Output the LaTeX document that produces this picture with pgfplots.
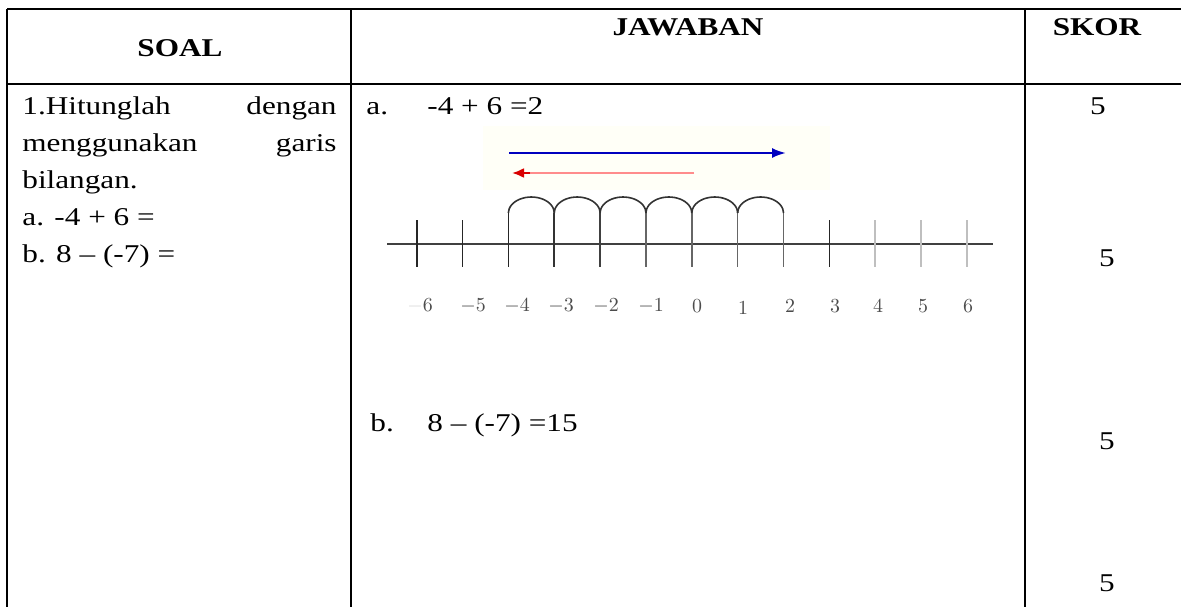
\documentclass[border=0pt]{standalone}
\usepackage{fontspec}
\setmainfont{Liberation Serif}
\usepackage{graphicx}
\usepackage{xcolor}
\usepackage{pgfplots}
\usepackage{pgfplotstable}
\pgfplotsset{compat=1.18}
\usetikzlibrary{arrows.meta}

% stretched text, as in the reference scan
\newcommand{\tx}[1]{\scalebox{1.22}[1]{\fontsize{12.8bp}{15bp}\selectfont #1}}

% one arch: offsets from its left foot (pixels)
\pgfplotstableread{
dx dy
0 0
0.78 -4.14
3.07 -8
6.72 -11.31
11.46 -13.86
17.0 -15.45
22.93 -16
28.86 -15.45
34.39 -13.86
39.14 -11.31
42.79 -8
45.07 -4.14
45.85 0
}\archtable

\begin{document}
\begin{tikzpicture}
\begin{axis}[
    scale only axis,
    width=590.5bp,
    height=303.5bp,
    xmin=0, xmax=1181,
    ymin=0, ymax=607,
    y dir=reverse,
    hide axis,
    clip=true,
]

% table rules
\addplot[black, line width=0.75bp] coordinates {(7,9) (1181,9)};
\addplot[black, line width=0.75bp] coordinates {(7,84) (1181,84)};
\addplot[black, line width=0.75bp] coordinates {(7,9) (7,607)};
\addplot[black, line width=0.75bp] coordinates {(351,9) (351,607)};
\addplot[black, line width=0.75bp] coordinates {(1025,9) (1025,607)};

% headers
\node[inner sep=0pt, anchor=base] at (axis cs:180,57) {\tx{\bfseries SOAL}};
\node[inner sep=0pt, anchor=base] at (axis cs:688,36) {\tx{\bfseries JAWABAN}};
\node[inner sep=0pt, anchor=base] at (axis cs:1097,36) {\tx{\bfseries SKOR}};

% question column
\node[inner sep=0pt, anchor=base west] at (axis cs:22,114) {\tx{1.Hitunglah}};
\node[inner sep=0pt, anchor=base east] at (axis cs:337,114) {\tx{dengan}};
\node[inner sep=0pt, anchor=base west] at (axis cs:22,151) {\tx{menggunakan}};
\node[inner sep=0pt, anchor=base east] at (axis cs:337,151) {\tx{garis}};
\node[inner sep=0pt, anchor=base west] at (axis cs:22,188) {\tx{bilangan.}};
\node[inner sep=0pt, anchor=base west] at (axis cs:22,225) {\tx{a. -4 + 6 =}};
\node[inner sep=0pt, anchor=base west] at (axis cs:22,262) {\tx{b. 8 – (-7) =}};

% answer column
\node[inner sep=0pt, anchor=base west] at (axis cs:366,114) {\tx{a.}};
\node[inner sep=0pt, anchor=base west] at (axis cs:427,114) {\tx{-4 + 6 =2}};
\node[inner sep=0pt, anchor=base west] at (axis cs:370,431) {\tx{b.}};
\node[inner sep=0pt, anchor=base west] at (axis cs:427,431) {\tx{8 – (-7) =15}};

% score column
\node[inner sep=0pt, anchor=base] at (axis cs:1098,114) {\tx{5}};
\node[inner sep=0pt, anchor=base] at (axis cs:1107,266) {\tx{5}};
\node[inner sep=0pt, anchor=base] at (axis cs:1107,449) {\tx{5}};
\node[inner sep=0pt, anchor=base] at (axis cs:1107,591) {\tx{5}};

% faint backdrop behind the arrows
\addplot[draw=none, fill=yellow!3] coordinates {(483,126) (830,126) (830,190) (483,190)} -- cycle;

% arrows
\addplot[blue!75!black, line width=1.1bp, -{Latex[length=7bp,width=5bp]}]
    coordinates {(509,153) (786,153)};
\addplot[red!45, line width=1.1bp] coordinates {(694,173) (525,173)};
\addplot[red!85!black, line width=1.1bp, -{Latex[length=6bp,width=5bp]}]
    coordinates {(530,173) (512,173)};

% number line
\addplot[black!75, line width=1.2bp] coordinates {(387,244) (993,244)};

% plain ticks
\addplot[black!85, line width=0.8bp] coordinates {(416.7,220) (416.7,267)};
\addplot[black!85, line width=0.8bp] coordinates {(462.55,220) (462.55,267)};
\addplot[black!85, line width=0.8bp] coordinates {(829.35,220) (829.35,267)};
\addplot[black!25, line width=0.8bp] coordinates {(875.2,220) (875.2,267)};
\addplot[black!25, line width=0.8bp] coordinates {(921.05,220) (921.05,267)};
\addplot[black!25, line width=0.8bp] coordinates {(966.9,220) (966.9,267)};

% ticks under the arches
\addplot[black!85, line width=0.8bp] coordinates {(508.4,213) (508.4,267)};
\addplot[black!80, line width=0.8bp] coordinates {(554.25,213) (554.25,267)};
\addplot[black!75, line width=0.8bp] coordinates {(600.1,213) (600.1,267)};
\addplot[black!60, line width=0.8bp] coordinates {(645.95,213) (645.95,267)};
\addplot[black!60, line width=0.8bp] coordinates {(691.8,213) (691.8,267)};
\addplot[black!60, line width=0.8bp] coordinates {(737.65,213) (737.65,267)};
\addplot[black!60, line width=0.8bp] coordinates {(783.5,213) (783.5,267)};

% arches
\addplot[black!80, line width=0.8bp, smooth] table[x expr=\thisrow{dx}+508.4, y expr=\thisrow{dy}+213] {\archtable};
\addplot[black!80, line width=0.8bp, smooth] table[x expr=\thisrow{dx}+554.25, y expr=\thisrow{dy}+213] {\archtable};
\addplot[black!80, line width=0.8bp, smooth] table[x expr=\thisrow{dx}+600.1, y expr=\thisrow{dy}+213] {\archtable};
\addplot[black!80, line width=0.8bp, smooth] table[x expr=\thisrow{dx}+645.95, y expr=\thisrow{dy}+213] {\archtable};
\addplot[black!80, line width=0.8bp, smooth] table[x expr=\thisrow{dx}+691.8, y expr=\thisrow{dy}+213] {\archtable};
\addplot[black!80, line width=0.8bp, smooth] table[x expr=\thisrow{dx}+737.65, y expr=\thisrow{dy}+213] {\archtable};

% tick labels
\begin{scope}[every node/.style={inner sep=0pt, text=black!70, font=\fontsize{10bp}{11bp}\selectfont}]
\node at (axis cs:420,306) {$\color{black!15}-\color{black!70}6$};
\node at (axis cs:473,306) {$-5$};
\node at (axis cs:517,306) {$-4$};
\node at (axis cs:561,306) {$-3$};
\node at (axis cs:606,306) {$-2$};
\node at (axis cs:651,306) {$-1$};
\node at (axis cs:697,306) {$0$};
\node at (axis cs:743,308) {$1$};
\node at (axis cs:790,306) {$2$};
\node at (axis cs:835,306) {$3$};
\node at (axis cs:878,306) {$4$};
\node at (axis cs:923,306) {$5$};
\node at (axis cs:968,306) {$6$};
\end{scope}

\end{axis}
\pgfresetboundingbox
\path[use as bounding box] (current axis.south west) rectangle (current axis.north east);
\end{tikzpicture}
\end{document}
